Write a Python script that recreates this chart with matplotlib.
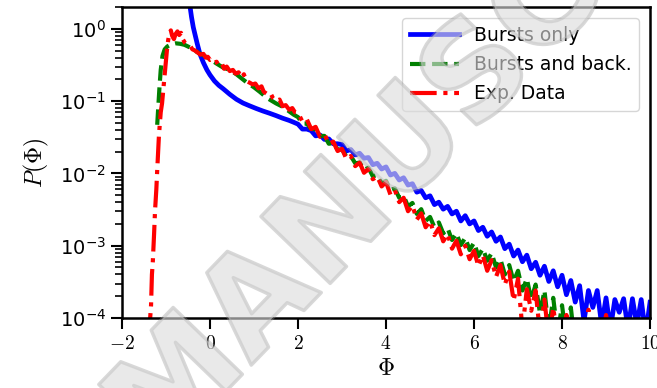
# P(Phi) distribution: bursts only / bursts and background / experiment
import matplotlib.pyplot as plt
import matplotlib.patheffects as pe
from matplotlib.ticker import FuncFormatter

plt.rcParams['mathtext.fontset'] = 'cm'
plt.rcParams['font.family'] = ['DejaVu Sans']

# head of the curves (Phi < 2)
blue_x = [-0.47, -0.45, -0.42, -0.38, -0.34, -0.29, -0.23, -0.15, -0.07, 0.0,
          0.1, 0.2, 0.3, 0.45, 0.6, 0.75, 0.9, 1.05, 1.2, 1.35, 1.5, 1.65, 1.8, 1.9]
blue_y = [2.3, 1.95, 1.45, 1.05, 0.83, 0.62, 0.45, 0.34, 0.27, 0.23,
          0.19, 0.165, 0.148, 0.124, 0.106, 0.094, 0.086, 0.079, 0.073, 0.068,
          0.063, 0.058, 0.054, 0.051]

green_x = [-1.20, -1.18, -1.15, -1.12, -1.08, -1.03, -0.97, -0.88, -0.78, -0.68,
           -0.58, -0.45, -0.30, -0.15, 0.0, 0.15, 0.30, 0.45, 0.6, 0.84,
           1.0, 1.14, 1.3, 1.5, 1.66, 1.8, 1.9]
green_y = [0.047, 0.075, 0.15, 0.27, 0.42, 0.52, 0.57, 0.61, 0.63, 0.62,
           0.60, 0.55, 0.48, 0.43, 0.38, 0.33, 0.29, 0.27, 0.235, 0.18,
           0.155, 0.133, 0.11, 0.093, 0.083, 0.072, 0.065]

red_x = [-1.37, -1.36, -1.34, -1.32, -1.30, -1.27, -1.25, -1.22, -1.20, -1.16,
         -1.12, -1.09, -1.05, -1.02, -0.98, -0.95, -0.92, -0.89, -0.86, -0.82,
         -0.78, -0.74, -0.70, -0.66, -0.62, -0.57, -0.52, -0.45, -0.40, -0.34,
         -0.28, -0.22, -0.15, -0.10, -0.05, 0.0, 0.05, 0.1, 0.15, 0.2,
         0.27, 0.32, 0.38, 0.45, 0.52, 0.58, 0.65, 0.72, 0.77, 0.82,
         0.9, 0.97, 1.03, 1.1, 1.17, 1.22, 1.3, 1.37, 1.43, 1.5,
         1.58, 1.65, 1.72, 1.8, 1.87, 1.93]
red_y = [0.00005, 0.0001, 0.00015, 0.0004, 0.0006, 0.0015, 0.003, 0.006, 0.011, 0.034,
         0.07, 0.093, 0.17, 0.27, 0.5, 0.7, 0.88, 0.95, 0.8, 0.72,
         0.85, 0.92, 0.82, 0.88, 0.72, 0.64, 0.6, 0.58, 0.52, 0.5,
         0.47, 0.44, 0.45, 0.4, 0.41, 0.37, 0.38, 0.34, 0.35, 0.31,
         0.33, 0.28, 0.3, 0.26, 0.27, 0.24, 0.25, 0.21, 0.235, 0.19,
         0.18, 0.17, 0.175, 0.15, 0.16, 0.135, 0.125, 0.13, 0.11, 0.1,
         0.105, 0.085, 0.088, 0.076, 0.08, 0.07]

# noisy tails (Phi >= 2), shared sampling
tail_x = [2.0, 2.1, 2.2, 2.3, 2.4, 2.5, 2.6, 2.7, 2.8, 2.9,
          3.0, 3.1, 3.2, 3.3, 3.4, 3.5, 3.6, 3.7, 3.8, 3.9,
          4.0, 4.1, 4.2, 4.3, 4.4, 4.5, 4.6, 4.7, 4.8, 4.9,
          5.0, 5.1, 5.2, 5.3, 5.4, 5.5, 5.6, 5.7, 5.8, 5.9,
          6.0, 6.1, 6.2, 6.3, 6.4, 6.5, 6.6, 6.7, 6.8, 6.9,
          7.0, 7.1, 7.2, 7.3, 7.4, 7.5, 7.6, 7.7, 7.8, 7.9,
          8.0, 8.1, 8.2, 8.3, 8.4, 8.5, 8.6, 8.7, 8.8, 8.9,
          9.0, 9.1, 9.2, 9.3, 9.4, 9.5, 9.6, 9.7, 9.8, 9.9, 10.0]
blue_tail = [0.048, 0.041, 0.041, 0.039, 0.033, 0.034, 0.0295, 0.030, 0.0257, 0.0257,
             0.025, 0.0204, 0.0214, 0.018, 0.019, 0.0162, 0.0166, 0.0132, 0.0138, 0.0115,
             0.0123, 0.0095, 0.010, 0.0081, 0.0087, 0.0069, 0.0072, 0.0055, 0.0058, 0.0046,
             0.0049, 0.0037, 0.0040, 0.0032, 0.0035, 0.00275, 0.0030, 0.0022, 0.0026, 0.0020,
             0.0022, 0.00162, 0.0018, 0.00135, 0.00155, 0.00115, 0.00132, 0.00091, 0.00105, 0.00072,
             0.00087, 0.0006, 0.00074, 0.00048, 0.00059, 0.00039, 0.00052, 0.00032, 0.00045, 0.00027,
             0.00039, 0.00021, 0.00033, 0.000166, 0.00028, 0.00009, 0.00024, 0.00014, 0.00024, 0.00008,
             0.00019, 0.00007, 0.00018, 0.00012, 0.000185, 0.00007, 0.000185, 0.00008, 0.00018, 0.00006,
             0.000165]
green_tail = [0.060, 0.049, 0.049, 0.041, 0.041, 0.033, 0.033, 0.0257, 0.0263, 0.0214,
              0.0214, 0.017, 0.0174, 0.0138, 0.0141, 0.0112, 0.012, 0.0091, 0.0095, 0.0072,
              0.0079, 0.0059, 0.0062, 0.0046, 0.0049, 0.0035, 0.0039, 0.00275, 0.0032, 0.0022,
              0.0025, 0.0018, 0.0021, 0.00148, 0.00174, 0.0012, 0.00148, 0.00102, 0.00129, 0.00087,
              0.0011, 0.00072, 0.00091, 0.00062, 0.00079, 0.0005, 0.00065, 0.0004, 0.00054, 0.00032,
              0.00045, 0.00024, 0.00035, 0.00018, 0.00029, 0.000115, 0.00024, 0.00007, 0.00019, 0.00006,
              0.00015, 0.00005, 0.00014, 0.00004, 0.00004, 0.00004, 0.00004, 0.00004, 0.00004, 0.00004,
              0.00004, 0.00004, 0.00004, 0.00004, 0.00004, 0.00004, 0.00004, 0.00004, 0.00004, 0.00004,
              0.00004]
red_tail = [0.069, 0.052, 0.056, 0.041, 0.044, 0.032, 0.035, 0.0257, 0.0275, 0.0204,
            0.0219, 0.0158, 0.0174, 0.0126, 0.0141, 0.0102, 0.0115, 0.0083, 0.0091, 0.0066,
            0.0076, 0.0051, 0.0059, 0.0040, 0.0046, 0.0030, 0.0036, 0.0023, 0.0028, 0.0018,
            0.0022, 0.0014, 0.00174, 0.00115, 0.00145, 0.00091, 0.00117, 0.00076, 0.001, 0.00065,
            0.00085, 0.00052, 0.00074, 0.00045, 0.00063, 0.00037, 0.00054, 0.00029, 0.00044, 0.000174,
            0.00035, 0.00007, 0.00025, 0.000126, 0.00024, 0.00006, 0.00018, 0.00005, 0.00014, 0.00005,
            0.00005, 0.00011, 0.00005, 0.00004, 0.00004, 0.00005, 0.00013, 0.00005, 0.00004, 0.00004,
            0.00011, 0.00005, 0.00004, 0.00004, 0.00004, 0.00004, 0.00004, 0.00004, 0.00004, 0.00004,
            0.00004]

fig = plt.figure(figsize=(6.57, 3.88), dpi=100)
ax = fig.add_axes([0.1857, 0.1804, 0.8037, 0.8015])

ax.plot(blue_x + tail_x, blue_y + blue_tail, color='b', lw=3.4, label='Bursts only')
ax.plot(green_x + tail_x, green_y + green_tail, color='g', lw=3, ls='--',
        label='Bursts and back.')
ax.plot(red_x + tail_x, red_y + red_tail, color='r', lw=3, ls='-.', label='Exp. Data')

ax.set_yscale('log')
ax.set_xlim(-2, 10)
ax.set_ylim(1e-4, 2)
ax.set_xticks([-2, 0, 2, 4, 6, 8, 10])
ax.xaxis.set_major_formatter(FuncFormatter(lambda v, p: '$%d$' % v))
ax.tick_params(axis='both', which='major', labelsize=14, length=8, width=1.5)
ax.tick_params(axis='y', which='minor', length=5, width=1.2)
for s in ax.spines.values():
    s.set_linewidth(1.8)

ax.set_xlabel(r'$\Phi$', fontsize=17, labelpad=2)
ax.set_ylabel(r'$P(\Phi)$', fontsize=17, labelpad=6)

ax.legend(loc='upper right', fontsize=13.5, handlelength=2.6, labelspacing=0.55,
          borderaxespad=0.6)

# watermark
fig.text(0.7215, 0.789, 'MANUSCRIPT', fontsize=95, fontweight='bold', color='#dcdcdc',
         alpha=0.38, rotation=46, ha='center', va='center', rotation_mode='anchor',
         zorder=10, path_effects=[pe.withStroke(linewidth=2.5, foreground='#999999')])

fig.savefig('out.png', dpi=100)
